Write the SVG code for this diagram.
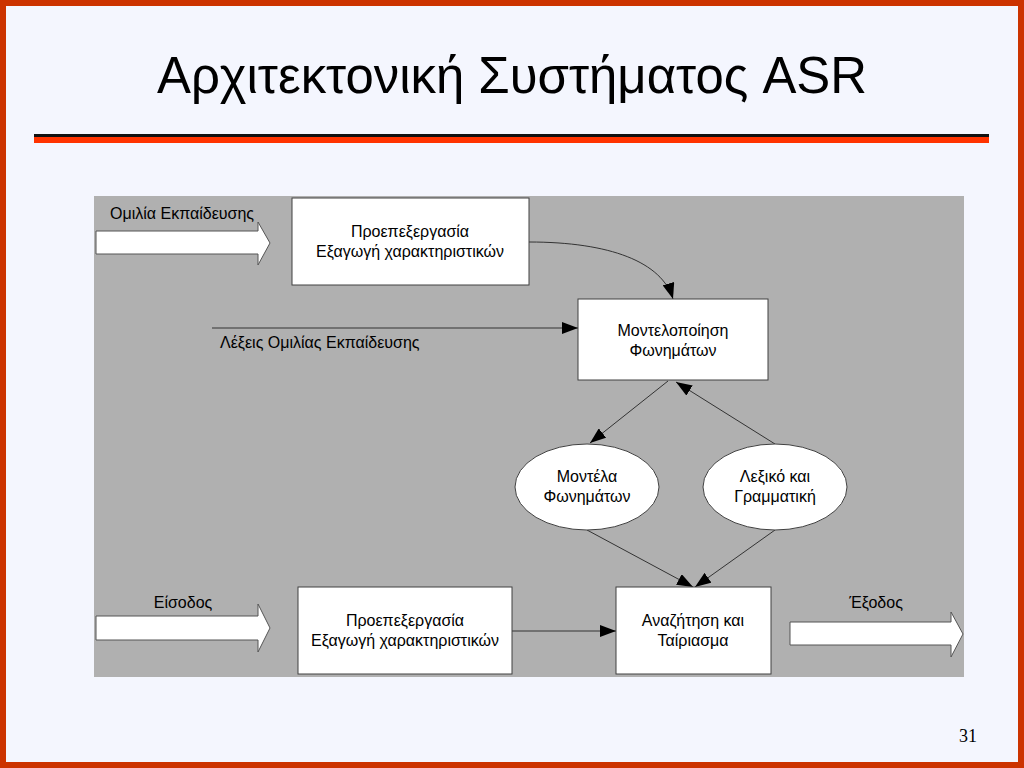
<svg xmlns="http://www.w3.org/2000/svg" width="1024" height="768" viewBox="0 0 1024 768">
<style>
.t{font-family:"Liberation Sans",Arial,sans-serif;font-size:16px;fill:#000}
.c{text-anchor:middle}
.box{fill:#fff;stroke:#404040;stroke-width:1}
.blk{fill:#fff;stroke:#555;stroke-width:1}
.con{fill:none;stroke:#333;stroke-width:1;marker-end:url(#ah)}
</style>
<defs>
<marker id="ah" markerWidth="16" markerHeight="12" refX="16" refY="6" orient="auto" markerUnits="userSpaceOnUse">
<path d="M0,0 L16,6 L0,12 Z" fill="#000"/>
</marker>
</defs>
<rect x="0" y="0" width="1024" height="768" fill="#CC3300"/>
<rect x="6" y="6" width="1012" height="756" fill="#F4F6FE"/>
<text x="512" y="93" font-family="'Liberation Sans Narrow','Liberation Sans',Arial,sans-serif" font-size="52" text-anchor="middle" textLength="710" lengthAdjust="spacingAndGlyphs">Αρχιτεκτονική Συστήματος ASR</text>
<rect x="34" y="134" width="955" height="4" fill="#111"/>
<rect x="34" y="137" width="955" height="6" fill="#FF3300"/>
<rect x="94" y="196" width="870" height="481" fill="#B0B0B0"/>
<g id="arrow-train-in">
<path class="blk" d="M96,231 L258,231 L258,222 L270,243 L258,265 L258,254 L96,254 Z"/>
<text class="t" x="110" y="219">Ομιλία Εκπαίδευσης</text>
</g>
<g id="arrow-input">
<path class="blk" d="M96,616 L258,616 L258,604 L270,628 L258,652 L258,640 L96,640 Z"/>
<text class="t c" x="183" y="608">Είσοδος</text>
</g>
<g id="arrow-output">
<path class="blk" d="M790,622 L951,622 L951,612 L963,634 L951,657 L951,645 L790,645 Z"/>
<text class="t c" x="876" y="608">Έξοδος</text>
</g>
<g id="label-words">
<text class="t" x="220" y="348">Λέξεις Ομιλίας Εκπαίδευσης</text>
</g>
<g id="connectors">
<path class="con" d="M529,242 C610,242 662,262 673,299"/>
<path class="con" d="M212,328 L578,328"/>
<path class="con" d="M668,381 L590,443"/>
<path class="con" d="M775,444 L676,382"/>
<path class="con" d="M587,530 L693,587"/>
<path class="con" d="M775,530 L695,587"/>
<path class="con" d="M512,631 L616,631"/>
</g>
<g id="preproc-train">
<rect class="box" x="292" y="198" width="237" height="87"/>
<text class="t c" x="410" y="237">Προεπεξεργασία</text>
<text class="t c" x="410" y="257">Εξαγωγή χαρακτηριστικών</text>
</g>
<g id="phone-modeling">
<rect class="box" x="578" y="299" width="190" height="81"/>
<text class="t c" x="673" y="336">Μοντελοποίηση</text>
<text class="t c" x="673" y="356">Φωνημάτων</text>
</g>
<g id="phone-models">
<ellipse class="box" cx="587" cy="487" rx="72" ry="43"/>
<text class="t c" x="587" y="482">Μοντέλα</text>
<text class="t c" x="587" y="502">Φωνημάτων</text>
</g>
<g id="lexicon-grammar">
<ellipse class="box" cx="775" cy="487" rx="72" ry="43"/>
<text class="t c" x="775" y="482">Λεξικό και</text>
<text class="t c" x="775" y="502">Γραμματική</text>
</g>
<g id="preproc-input">
<rect class="box" x="298" y="587" width="214" height="87"/>
<text class="t c" x="405" y="626">Προεπεξεργασία</text>
<text class="t c" x="405" y="646">Εξαγωγή χαρακτηριστικών</text>
</g>
<g id="search-match">
<rect class="box" x="616" y="587" width="155" height="87"/>
<text class="t c" x="693" y="626">Αναζήτηση και</text>
<text class="t c" x="693" y="646">Ταίριασμα</text>
</g>
<text x="968" y="742" font-family="'Liberation Serif','Times New Roman',serif" font-size="18" text-anchor="middle">31</text>
</svg>
